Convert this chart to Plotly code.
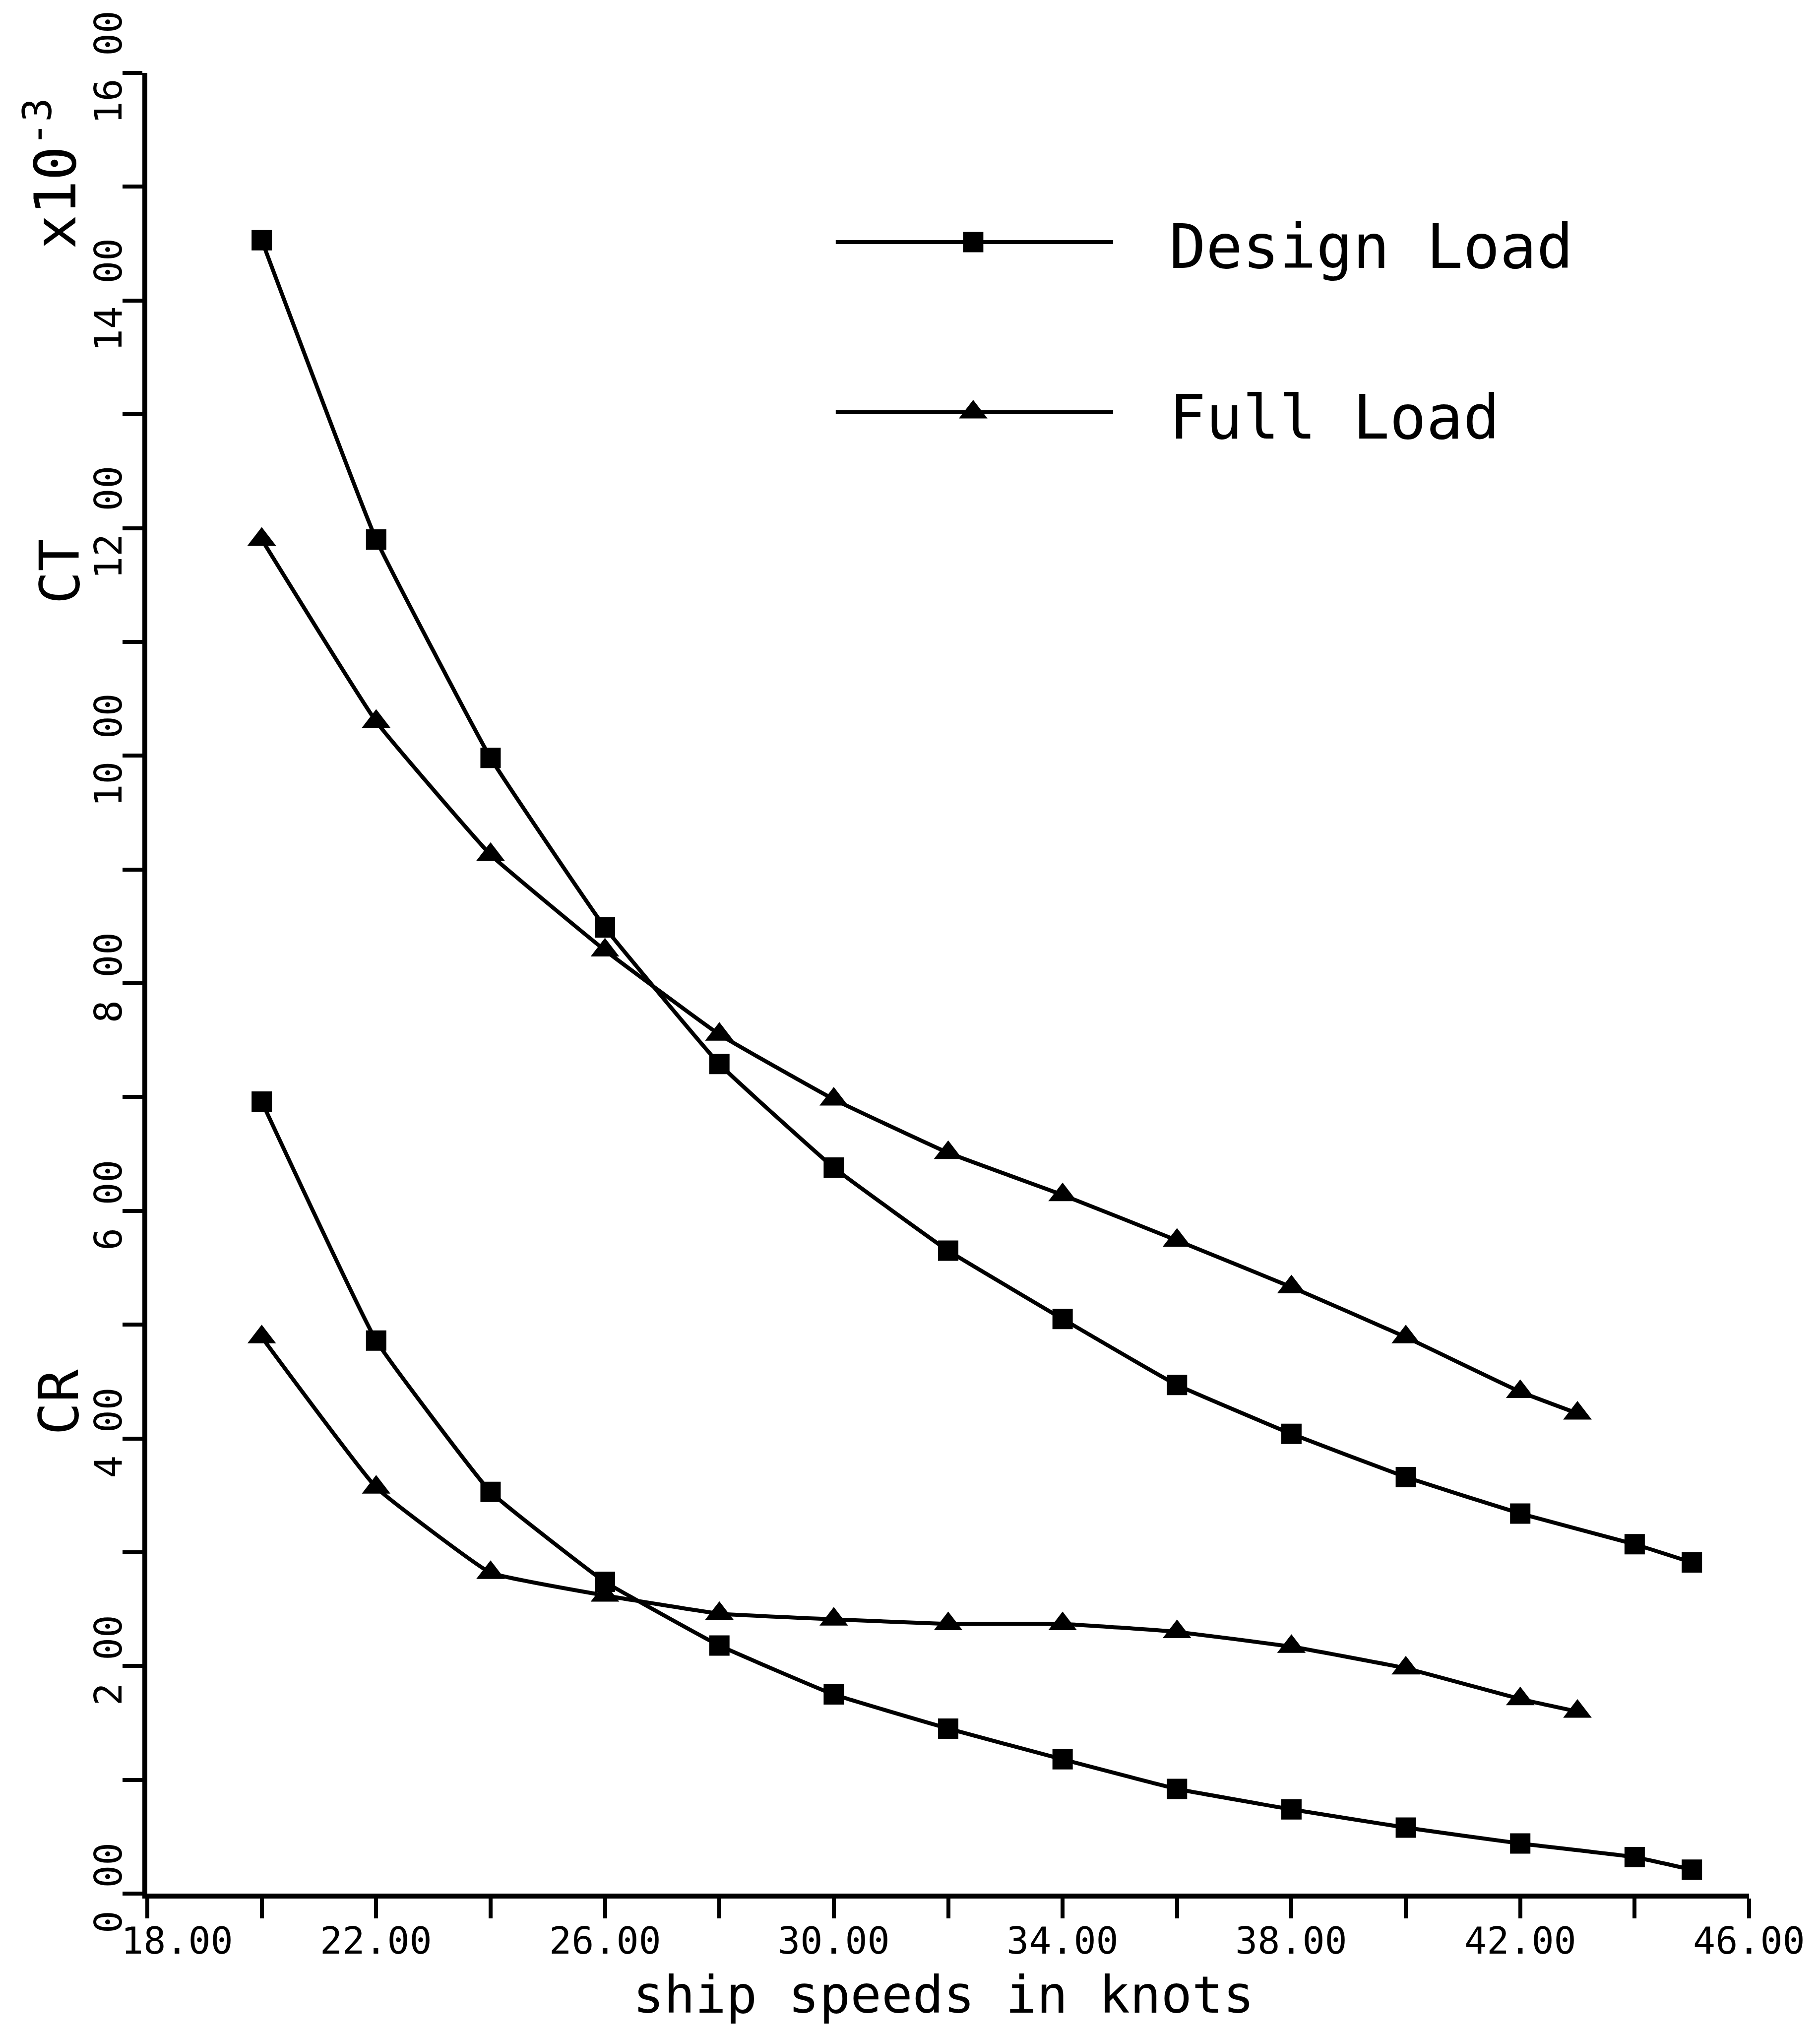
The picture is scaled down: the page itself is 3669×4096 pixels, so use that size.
import plotly.graph_objects as go

# Resistance coefficients (x10^-3) versus ship speed
speed_design = [20, 22, 24, 26, 28, 30, 32, 34, 36, 38, 40, 42, 44, 45]
ct_design = [14.53, 11.90, 9.98, 8.49, 7.29, 6.38, 5.65, 5.05, 4.47, 4.04, 3.66, 3.34, 3.07, 2.91]
cr_design = [6.96, 4.86, 3.53, 2.74, 2.18, 1.75, 1.45, 1.18, 0.92, 0.74, 0.58, 0.44, 0.32, 0.21]

speed_full = [20, 22, 24, 26, 28, 30, 32, 34, 36, 38, 40, 42, 43]
ct_full = [11.90, 10.30, 9.13, 8.29, 7.55, 6.98, 6.51, 6.14, 5.74, 5.33, 4.89, 4.41, 4.22]
cr_full = [4.89, 3.57, 2.82, 2.62, 2.46, 2.41, 2.37, 2.37, 2.30, 2.17, 1.98, 1.71, 1.60]

x_tick_vals = list(range(18, 47, 2))
x_label_vals = [18, 22, 26, 30, 34, 38, 42, 46]
x_label_text = ["18.00", "22.00", "26.00", "30.00", "34.00", "38.00", "42.00", "46.00"]
y_label_vals = [0, 2, 4, 6, 8, 10, 12, 14, 16]
y_label_text = ["0 00", "2 00", "4 00", "6 00", "8 00", "10 00", "12 00", "14 00", "16 00"]
y_minor_vals = list(range(0, 17))

series_names = ["Design Load", "Full Load"]

FONT = "DejaVu Sans Mono"
INK = "black"
LINE_W = 8
TICK_W = 8
SQ_SIZE = 41
TRI_SIZE = 50

fig = go.Figure()

def add_curve(xs, ys, symbol, size):
    fig.add_trace(go.Scatter(
        x=xs, y=ys, mode="lines+markers",
        line=dict(color=INK, width=LINE_W, shape="spline", smoothing=0.3),
        marker=dict(symbol=symbol, size=size, color=INK, line=dict(width=0)),
        showlegend=False, hoverinfo="skip",
    ))

add_curve(speed_design, ct_design, "square", SQ_SIZE)
add_curve(speed_full, ct_full, "triangle-up", TRI_SIZE)
add_curve(speed_design, cr_design, "square", SQ_SIZE)
add_curve(speed_full, cr_full, "triangle-up", TRI_SIZE)

# Legend key drawn on an invisible overlay axis spanning the plot area
key_rows = [0.9071, 0.8136]
key_line_x = [0.4298, 0.6030]
key_mark_x = 0.5156
for name, row, symbol, size in zip(series_names, key_rows, ["square", "triangle-up"], [SQ_SIZE, TRI_SIZE]):
    fig.add_trace(go.Scatter(
        x=key_line_x, y=[row, row], xaxis="x2", yaxis="y2", mode="lines",
        line=dict(color=INK, width=LINE_W),
        showlegend=False, hoverinfo="skip",
    ))
    fig.add_trace(go.Scatter(
        x=[key_mark_x], y=[row], xaxis="x2", yaxis="y2", mode="markers",
        marker=dict(symbol=symbol, size=size, color=INK, line=dict(width=0)),
        showlegend=False, hoverinfo="skip",
    ))
    fig.add_annotation(
        x=0.6374, y=row - 0.0027, xref="x2", yref="y2", text=name,
        showarrow=False, xanchor="left", yanchor="middle",
        font=dict(family=FONT, size=123, color=INK),
    )

# x tick labels (the first one is nudged clear of the y axis)
for v, t in zip(x_label_vals, x_label_text):
    fig.add_annotation(
        x=v, y=0, xref="x", yref="paper", text=t, showarrow=False,
        xanchor="center", yanchor="middle", yshift=-95,
        xshift=60 if v == x_label_vals[0] else 0,
        font=dict(family=FONT, size=75, color=INK),
    )

# Axis titles
fig.add_annotation(
    x=0.497, y=-0.0556, xref="paper", yref="paper", text="ship speeds in knots",
    showarrow=False, xanchor="center", yanchor="middle",
    font=dict(family=FONT, size=104, color=INK),
)
fig.add_annotation(
    x=-0.0545, y=0.7262, xref="paper", yref="paper", text="CT", textangle=-90,
    showarrow=False, xanchor="center", yanchor="middle",
    font=dict(family=FONT, size=110, color=INK),
)
fig.add_annotation(
    x=-0.0551, y=0.2698, xref="paper", yref="paper", text="CR", textangle=-90,
    showarrow=False, xanchor="center", yanchor="middle",
    font=dict(family=FONT, size=110, color=INK),
)
fig.add_annotation(
    x=-0.0600, y=0.9447, xref="paper", yref="paper", text="x10<sup>-3</sup>", textangle=-90,
    showarrow=False, xanchor="center", yanchor="middle",
    font=dict(family=FONT, size=115, color=INK),
)

axis_common = dict(
    showgrid=False, zeroline=False, showline=True, linecolor=INK, linewidth=10,
    ticks="outside", ticklen=40, tickwidth=TICK_W, tickcolor=INK,
)

fig.update_layout(
    width=3669, height=4096,
    margin=dict(l=297, r=143, t=147, b=279, pad=0),
    paper_bgcolor="white", plot_bgcolor="white",
    font=dict(family=FONT, color=INK),
    xaxis=dict(range=[18, 46], tickvals=x_tick_vals, showticklabels=False, **axis_common),
    yaxis=dict(range=[0, 16], tickvals=y_label_vals, ticktext=y_label_text, tickangle=-90,
               ticklabelstandoff=-28,
               tickfont=dict(family=FONT, size=76, color=INK),
               minor=dict(tickvals=y_minor_vals, ticks="outside", ticklen=40,
                          tickwidth=TICK_W, tickcolor=INK, showgrid=False),
               **axis_common),
    xaxis2=dict(range=[0, 1], overlaying="x", visible=False, fixedrange=True),
    yaxis2=dict(range=[0, 1], overlaying="y", visible=False, fixedrange=True),
)

fig.write_html("out.html")
